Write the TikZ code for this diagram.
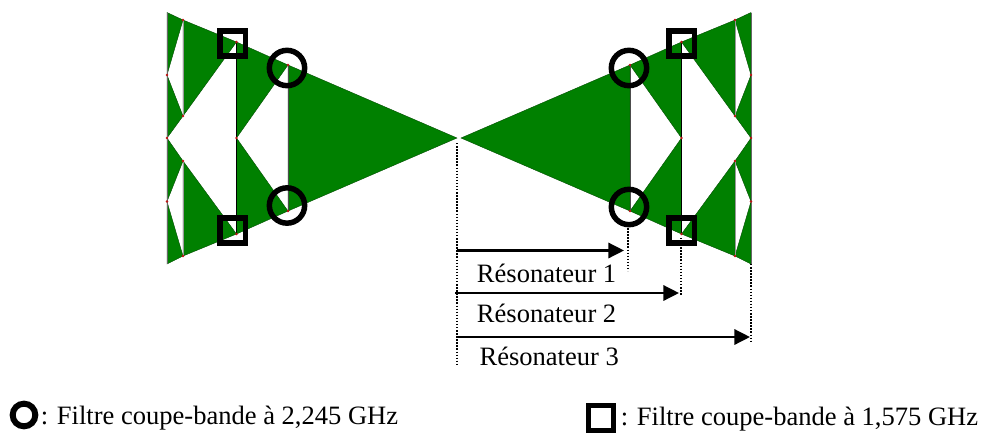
\documentclass[tikz,border=0pt]{standalone}
\usepackage{fontspec}
\setmainfont{Liberation Serif}
\usetikzlibrary{arrows.meta}
\definecolor{patchgreen}{RGB}{0,128,0}
\definecolor{viared}{RGB}{190,20,20}
\tikzset{
  patch/.style={fill=patchgreen,draw=patchgreen!60!black,line width=0.3pt},
  ringmark/.style={circle,draw=black,line width=4.1pt,minimum size=26.5pt,inner sep=0pt,outer sep=0pt},
  boxmark/.style={rectangle,draw=black,line width=4.1pt,minimum size=18.8pt,inner sep=0pt,outer sep=0pt},
  guide/.style={line width=0.9pt,dash pattern=on 1.1pt off 1.2pt},
  span/.style={line width=1.6pt,-{Triangle[length=11.7pt,width=11.5pt]}},
  caption/.style={font=\fontsize{19.9}{24}\selectfont,inner sep=0pt,anchor=base west},
  bowtie/.pic={
    % big triangle
    \fill[patch] (457,138) -- (288,65) -- (288,211) -- cycle;
    % second row
    \fill[patch] (236.5,42) -- (288,65) -- (236.5,138) -- cycle;
    \fill[patch] (236.5,138) -- (288,211) -- (236.5,234) -- cycle;
    % third row
    \fill[patch] (183,20) -- (236.5,42) -- (183,116) -- cycle;
    \fill[patch] (183,161) -- (236.5,234) -- (183,256) -- cycle;
    % outer row
    \fill[patch] (167,12.5) -- (183,20) -- (167,75) -- cycle;
    \fill[patch] (167,75) -- (183,116) -- (167,138) -- cycle;
    \fill[patch] (167,138) -- (183,161) -- (167,201.5) -- cycle;
    \fill[patch] (167,201.5) -- (183,256) -- (167,264) -- cycle;
    % vertical strips
    \draw[line width=0.7pt,black!60] (167,12.5) -- (167,264);
    \draw[line width=0.7pt,black!40] (183,20) -- (183,116) (183,161) -- (183,256);
    \draw[line width=0.9pt] (236.5,42) -- (236.5,234);
    \draw[line width=0.6pt,black!70] (288,65) -- (288,211);
    % vias
    \foreach \vx/\vy in {167/75,167/138,167/201.5,183/20,183/116,183/161,183/256,236.5/42,236.5/138,236.5/234,288/65,288/211}
      \fill[viared] (\vx,\vy) circle (1.1pt);
  }
}
\begin{document}
\begin{tikzpicture}[x=0.75pt,y=-0.75pt]
  \useasboundingbox (0,0) rectangle (983,433);
  \pic {bowtie};
  \pic[xshift=688.5pt,xscale=-1] {bowtie};
  % filters
  \node[ringmark] (ringTL) at (287,68) {};
  \node[ringmark] (ringBL) at (287,205.5) {};
  \node[ringmark] (ringTR) at (629,68) {};
  \node[ringmark] (ringBR) at (629,207) {};
  \node[boxmark] (boxTL) at (232.7,43.5) {};
  \node[boxmark] (boxBL) at (232.7,230.5) {};
  \node[boxmark] (boxTR) at (681.7,43.5) {};
  \node[boxmark] (boxBR) at (681.7,230.5) {};
  % guides
  \coordinate (orgA) at (457,143);
  \coordinate (orgB) at (457,366);
  \coordinate (endA) at (628,225);
  \coordinate (endAb) at (628,271);
  \coordinate (endB) at (681,238);
  \coordinate (endBb) at (681,295);
  \coordinate (endC) at (751,264);
  \coordinate (endCb) at (751,341);
  \draw[guide] (orgA) -- (orgB);
  \draw[guide] (endA) -- (endAb);
  \draw[guide] (endB) -- (endBb);
  \draw[guide] (endC) -- (endCb);
  % resonators
  \coordinate (startA) at (457,250.5);
  \coordinate (tipA) at (624,250.5);
  \coordinate (startB) at (455,293);
  \coordinate (tipB) at (679,293);
  \coordinate (startC) at (457,337);
  \coordinate (tipC) at (750,337);
  \draw[span] (startA) -- (tipA);
  \draw[span] (startB) -- (tipB);
  \draw[span] (startC) -- (tipC);
  \node[caption] (resA) at (476.7,282.5) {Résonateur 1};
  \node[caption] (resB) at (476.7,322.5) {Résonateur 2};
  \node[caption] (resC) at (479.3,365.8) {Résonateur 3};
  % legend
  \node[ringmark,minimum size=17pt,line width=4.5pt] (ringKey) at (24,415) {};
  \node[caption] (ringText) at (40.5,424) {: Filtre coupe-bande à 2,245 GHz};
  \node[boxmark,line width=4.2pt] (boxKey) at (601,418) {};
  \node[caption] (boxText) at (620.5,425.7) {: Filtre coupe-bande à 1,575 GHz};
\end{tikzpicture}
\end{document}
